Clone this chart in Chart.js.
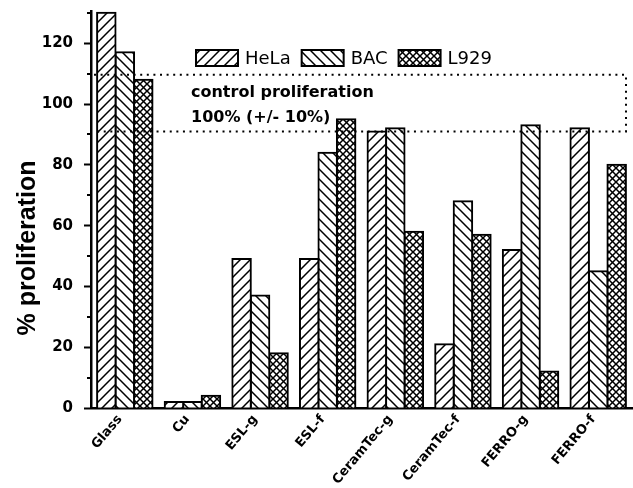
<!DOCTYPE html>
<html>
<head>
<meta charset="utf-8">
<script src="https://cdn.jsdelivr.net/npm/chart.js@4.4.1/dist/chart.umd.min.js"></script>
<style>
  html, body { margin: 0; padding: 0; background: #fff; }
  #wrap { width: 633px; height: 488px; }
</style>
</head>
<body>
<div id="wrap"><canvas id="c" width="633" height="488"></canvas></div>
<script>
// Cell proliferation on each substrate, per cell line (% of control)
const categories = ['Glass', 'Cu', 'ESL-g', 'ESL-f', 'CeramTec-g', 'CeramTec-f', 'FERRO-g', 'FERRO-f'];
const seriesNames = ['HeLa', 'BAC', 'L929'];
const helaValues = [130, 2, 49, 49, 91, 21, 52, 92];
const bacValues  = [117, 2, 37, 84, 92, 68, 93, 45];
const l929Values = [108, 4, 18, 95, 58, 57, 12, 80];
const yTickValues = [0, 20, 40, 60, 80, 100, 120];
const yMinorTicks = [10, 30, 50, 70, 90, 110, 130];
const controlBand = [91, 109.6];
const bandLabel = ['control proliferation', '100% (+/- 10%)'];
const yTitle = '% proliferation';

const canvas = document.getElementById('c');
const ctx = canvas.getContext('2d');

// Black-on-white hatch fills: forward slash, back slash, cross
function hatch(kind) {
  const s = kind === 'cross' ? 7 : 10;
  const t = document.createElement('canvas');
  t.width = s; t.height = s;
  const g = t.getContext('2d');
  g.fillStyle = '#fff';
  g.fillRect(0, 0, s, s);
  g.strokeStyle = '#000';
  g.lineWidth = 1.5;
  const fwd = () => {
    g.beginPath();
    g.moveTo(-1, s + 1); g.lineTo(s + 1, -1);
    g.moveTo(-1, 1); g.lineTo(1, -1);
    g.moveTo(s - 1, s + 1); g.lineTo(s + 1, s - 1);
    g.stroke();
  };
  const back = () => {
    g.beginPath();
    g.moveTo(-1, -1); g.lineTo(s + 1, s + 1);
    g.moveTo(s - 1, -1); g.lineTo(s + 1, 1);
    g.moveTo(-1, s - 1); g.lineTo(1, s + 1);
    g.stroke();
  };
  if (kind === 'fwd') fwd();
  else if (kind === 'back') back();
  else { fwd(); back(); }
  return ctx.createPattern(t, 'repeat');
}

const fills = [hatch('fwd'), hatch('back'), hatch('cross')];
const seriesValues = [helaValues, bacValues, l929Values];

// Short minor tick marks on the value axis, plus the axis title
const yAxisExtras = {
  id: 'yAxisExtras',
  afterDraw(chart) {
    const c = chart.ctx;
    const y = chart.scales.y;
    const x0 = chart.chartArea.left;
    c.save();
    c.strokeStyle = '#000';
    c.lineWidth = 2;
    c.beginPath();
    yMinorTicks.forEach(v => {
      const py = Math.round(y.getPixelForValue(v));
      c.moveTo(x0 - 4, py);
      c.lineTo(x0, py);
    });
    c.stroke();
    c.translate(28, 248);
    c.rotate(-Math.PI / 2);
    c.fillStyle = '#000';
    c.font = 'bold 25px "Liberation Sans"';
    c.textAlign = 'center';
    c.textBaseline = 'middle';
    c.fillText(yTitle, 0, 0);
    c.restore();
  }
};

// Dotted box marking the control range, with its caption
const bandPlugin = {
  id: 'controlBand',
  afterDatasetsDraw(chart) {
    const c = chart.ctx;
    const y = chart.scales.y;
    const area = chart.chartArea;
    const top = y.getPixelForValue(controlBand[1]);
    const bot = y.getPixelForValue(controlBand[0]);
    const left = area.left + 3;
    const right = area.right - 6;
    c.save();
    c.strokeStyle = '#000';
    c.lineWidth = 2;
    c.setLineDash([2, 4.6]);
    c.beginPath();
    c.moveTo(left, top); c.lineTo(right, top); c.lineTo(right, bot); c.lineTo(left, bot);
    c.stroke();
    c.setLineDash([]);
    c.fillStyle = '#000';
    c.font = 'bold 16px "DejaVu Sans"';
    c.textAlign = 'left';
    c.textBaseline = 'alphabetic';
    c.fillText(bandLabel[0], 191, 97);
    c.fillText(bandLabel[1], 191, 122);
    c.restore();
  }
};

// Horizontal legend row inside the plot
const legendPlugin = {
  id: 'rowLegend',
  afterDraw(chart) {
    const c = chart.ctx;
    c.save();
    c.font = '18px "DejaVu Sans"';
    c.textBaseline = 'middle';
    c.textAlign = 'left';
    let x = 196;
    const y = 50, bw = 42, bh = 16;
    chart.data.datasets.forEach(ds => {
      c.fillStyle = ds.backgroundColor;
      c.fillRect(x, y, bw, bh);
      c.strokeStyle = '#000';
      c.lineWidth = 2;
      c.strokeRect(x, y, bw, bh);
      c.fillStyle = '#000';
      c.fillText(ds.label, x + bw + 7, y + bh / 2 + 1);
      x += bw + 7 + c.measureText(ds.label).width + 11;
    });
    c.restore();
  }
};

new Chart(ctx, {
  type: 'bar',
  data: {
    labels: categories,
    datasets: seriesNames.map((name, i) => ({
      label: name,
      data: seriesValues[i],
      backgroundColor: fills[i],
      borderColor: '#000',
      borderWidth: 2,
      inflateAmount: 1,
      borderSkipped: 'start',
      barPercentage: 1,
      categoryPercentage: 0.82
    }))
  },
  options: {
    responsive: false,
    animation: false,
    devicePixelRatio: 1,
    layout: { padding: { top: 11, right: 1, left: 0, bottom: 0 } },
    plugins: { legend: { display: false }, tooltip: { enabled: false } },
    scales: {
      x: {
        grid: { display: false, drawTicks: false },
        border: { display: true, color: '#000', width: 2.5 },
        ticks: {
          color: '#000',
          font: { family: 'DejaVu Sans', weight: 'bold', size: 13 },
          minRotation: 50, maxRotation: 50,
          padding: 4,
          labelOffset: -5,
          autoSkip: false
        },
        afterFit: s => { s.height = 80; s.paddingLeft = 0; s.paddingRight = 0; }
      },
      y: {
        min: 0, max: 130.6,
        border: { display: true, color: '#000', width: 2.5 },
        grid: { display: true, drawOnChartArea: false, drawTicks: true, tickLength: 7, tickWidth: 2, tickColor: '#000' },
        ticks: {
          stepSize: 20,
          includeBounds: false,
          color: '#000',
          padding: 11,
          font: { family: 'DejaVu Sans', weight: 'bold', size: 15 },
          callback: v => yTickValues.includes(v) ? String(v) : ''
        },
        title: { display: false },
        afterFit: s => { s.width = 91; s.paddingTop = 0; s.paddingBottom = 0; }
      }
    }
  },
  plugins: [bandPlugin, yAxisExtras, legendPlugin]
});
</script>
</body>
</html>
